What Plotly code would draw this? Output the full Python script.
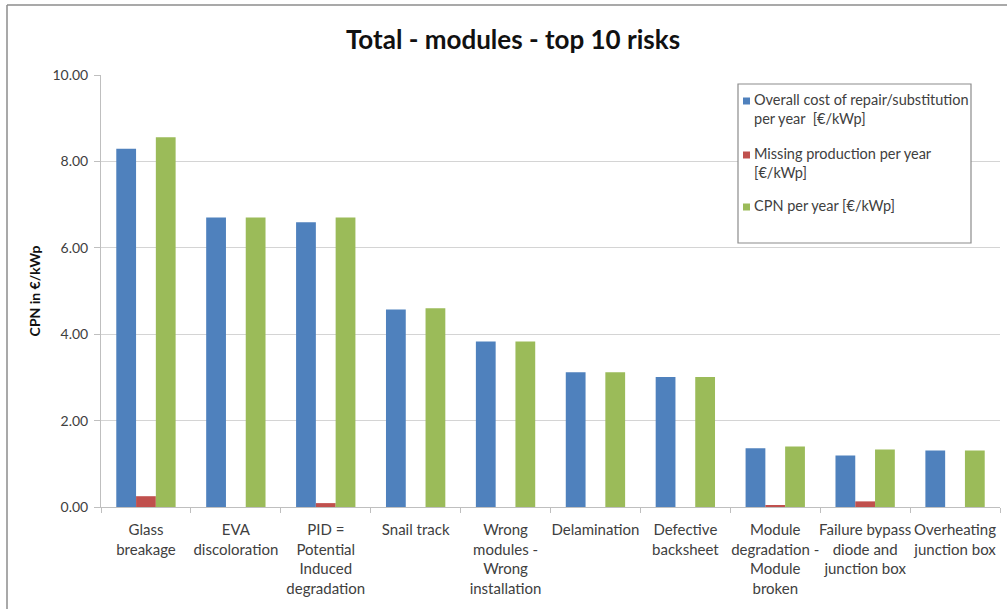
import plotly.graph_objects as go

# Top 10 module risks, values in €/kWp per year
categories = [
    "Glass<br>breakage",
    "EVA<br>discoloration",
    "PID =<br>Potential<br>Induced<br>degradation",
    "Snail track",
    "Wrong<br>modules -<br>Wrong<br>installation",
    "Delamination",
    "Defective<br>backsheet",
    "Module<br>degradation -<br>Module<br>broken",
    "Failure bypass<br>diode and<br>junction box",
    "Overheating<br>junction box",
]
repair_cost = [8.29, 6.70, 6.59, 4.57, 3.83, 3.12, 3.01, 1.36, 1.19, 1.31]
missing_production = [0.25, 0.00, 0.09, 0.00, 0.00, 0.00, 0.00, 0.03, 0.13, 0.00]
cpn = [8.56, 6.70, 6.70, 4.60, 3.83, 3.12, 3.01, 1.40, 1.33, 1.31]

series_names = [
    "Overall cost of repair/substitution<br>per year  [€/kWp]",
    "Missing production per year<br>[€/kWp]",
    "CPN per year [€/kWp]",
]
series_colors = ["#4F81BD", "#C0504D", "#9BBB59"]
y_ticks = [0, 2, 4, 6, 8, 10]

FONT = "Lato"
TEXT = "#404040"

fig = go.Figure()
for name, vals, color in zip(series_names, [repair_cost, missing_production, cpn], series_colors):
    fig.add_trace(go.Bar(
        x=categories, y=vals, name=name, showlegend=False,
        marker=dict(color=color, line=dict(width=0)),
    ))

W, H = 1007, 609
ml, mr, mt, mb = 101, 7, 75, 102
pw, ph = W - ml - mr, H - mt - mb


def px_x(x):
    return (x - ml) / pw


def px_y(y):
    return (H - mb - y) / ph


# outer chart frame (top and left edges visible)
frame = dict(color="#8c8c8c", width=1.5)
fig.add_shape(type="line", xref="paper", yref="paper",
              x0=px_x(7), x1=px_x(1010), y0=px_y(5), y1=px_y(5), line=frame)
fig.add_shape(type="line", xref="paper", yref="paper",
              x0=px_x(7), x1=px_x(7), y0=px_y(5), y1=px_y(615), line=frame)

# legend box with swatches and labels
fig.add_shape(type="rect", xref="paper", yref="paper",
              x0=px_x(738), x1=px_x(971), y0=px_y(84), y1=px_y(243),
              line=dict(color="#8c8c8c", width=1.2), fillcolor="white", layer="above")
legend_rows = [101, 155, 207]
for name, color, row in zip(series_names, series_colors, legend_rows):
    fig.add_shape(type="rect", xref="paper", yref="paper",
                  x0=px_x(743), x1=px_x(750), y0=px_y(row - 3.5), y1=px_y(row + 3.5),
                  line=dict(width=0), fillcolor=color, layer="above")
    fig.add_annotation(xref="paper", yref="paper", x=px_x(753), y=px_y(row - 11),
                       xanchor="left", yanchor="top", align="left", showarrow=False,
                       borderpad=0, text=name, font=dict(family=FONT, size=14.5, color=TEXT))

fig.update_layout(
    width=W, height=H,
    margin=dict(l=ml, r=mr, t=mt, b=mb, autoexpand=False),
    paper_bgcolor="white", plot_bgcolor="white",
    font=dict(family=FONT, color=TEXT, size=14),
    title=dict(text="<b>Total - modules - top 10 risks</b>", x=px_x(513), xref="paper",
               xanchor="center", y=1 - 40 / H, yanchor="middle",
               font=dict(family=FONT, size=26, color="#111111")),
    barmode="group", bargap=0.34, bargroupgap=0,
    xaxis=dict(
        type="category", showline=True, linecolor="#bfbfbf", linewidth=1,
        ticks="outside", ticklen=5, tickcolor="#bfbfbf", tickson="boundaries",
        showgrid=False, tickfont=dict(family=FONT, size=15, color=TEXT),
        tickangle=0, automargin=False,
        ticklabelstandoff=9, range=[-0.5, 9.5],
    ),
    yaxis=dict(
        range=[0, 10], tickvals=y_ticks, tickformat=".2f",
        showline=True, linecolor="#bfbfbf", linewidth=1,
        ticks="outside", ticklen=6, tickcolor="#bfbfbf",
        showgrid=True, gridcolor="#d4d4d4", gridwidth=1.3,
        tickfont=dict(family=FONT, size=14, color=TEXT), ticklabelstandoff=3,
        automargin=False,
        title=dict(text="<b>CPN in €/kWp</b>", standoff=8,
                   font=dict(family=FONT, size=14, color="#111111")),
        zeroline=False,
    ),
)

fig.write_html("out.html")
